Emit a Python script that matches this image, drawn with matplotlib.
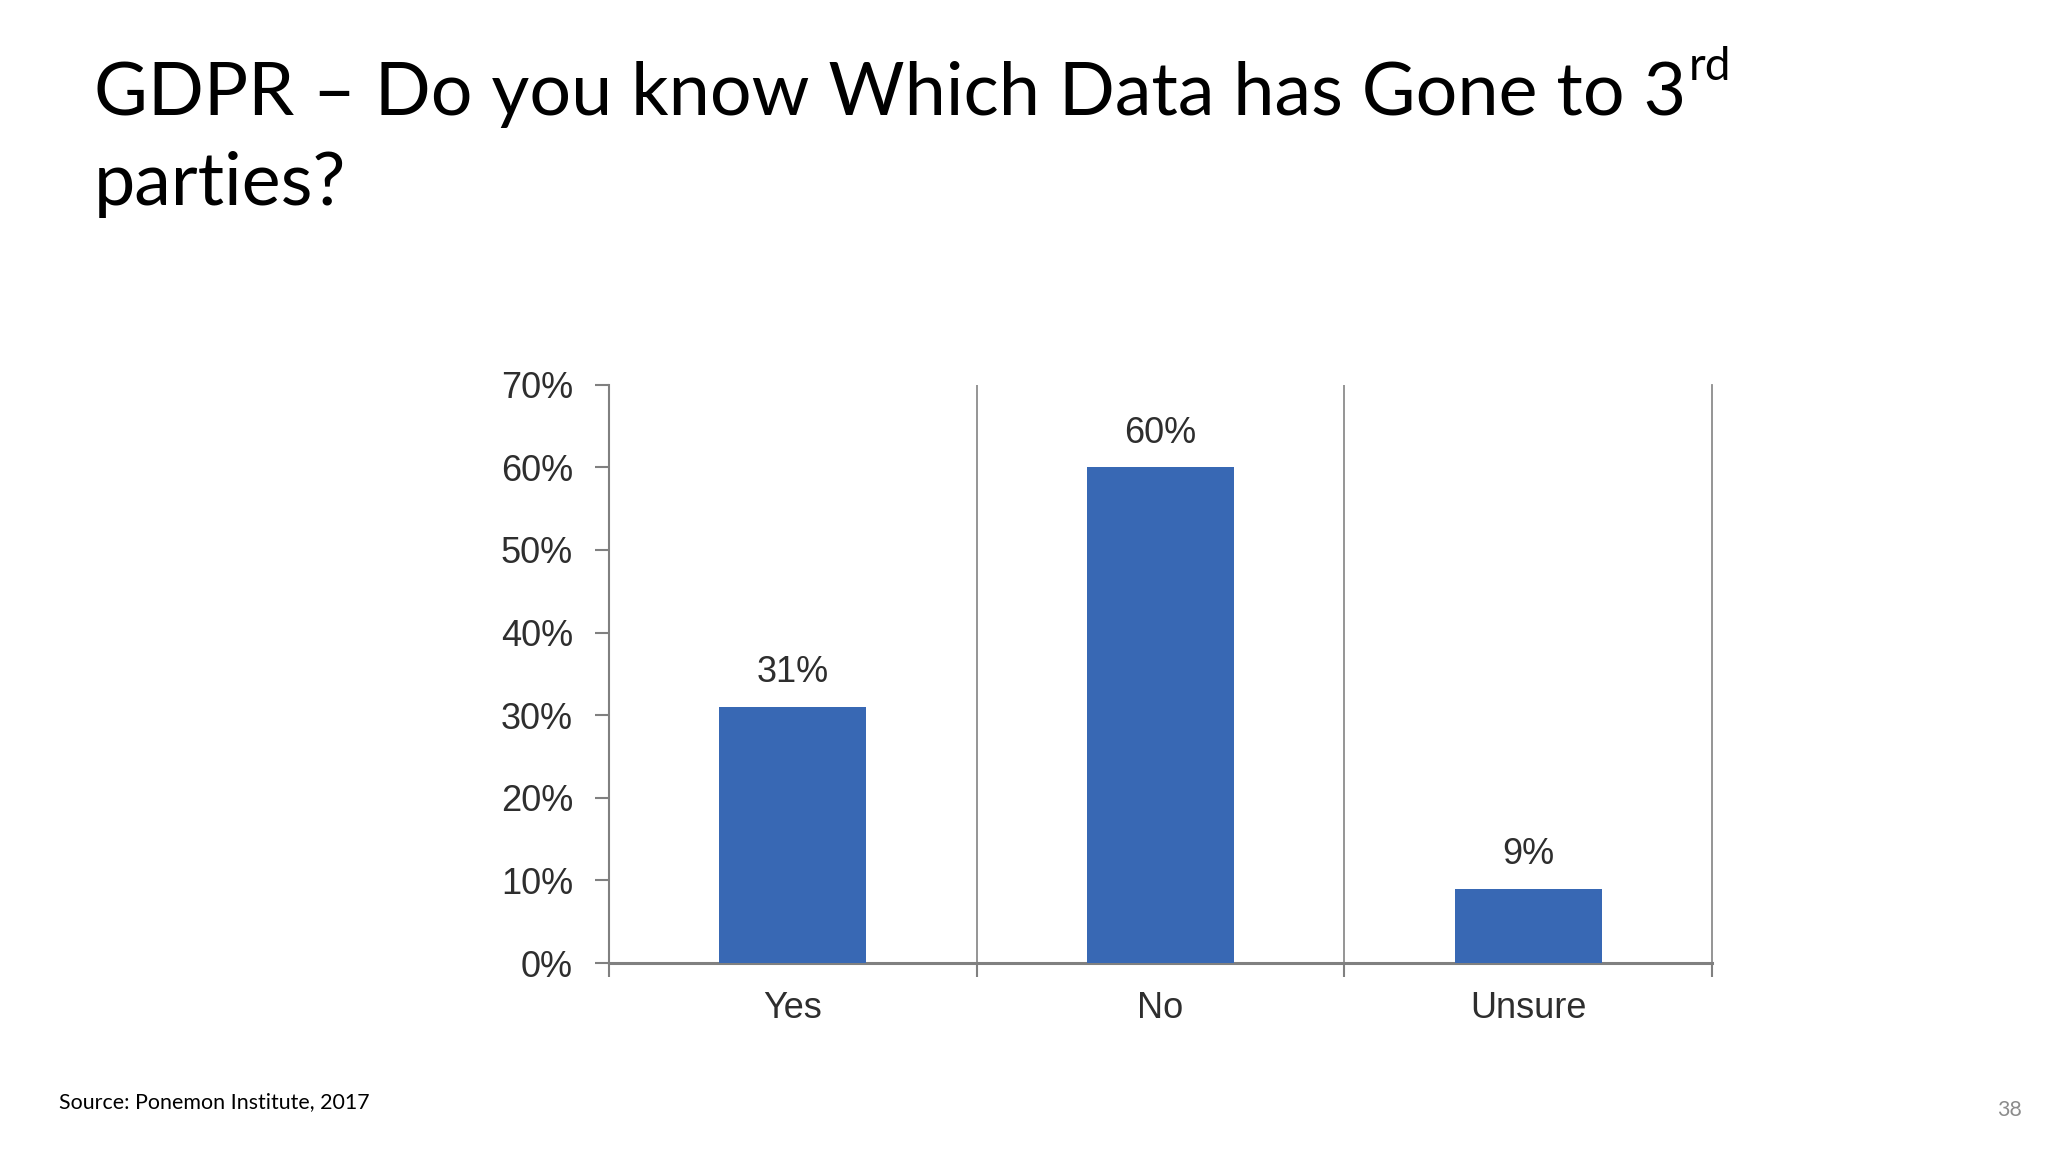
import matplotlib
matplotlib.use("Agg")
import matplotlib.pyplot as plt
from matplotlib.ticker import FixedLocator

categories = ["Yes", "No", "Unsure"]
values = [31, 60, 9]
value_labels = ["31%", "60%", "9%"]
y_ticks = [0, 10, 20, 30, 40, 50, 60, 70]
y_tick_labels = ["0%", "10%", "20%", "30%", "40%", "50%", "60%", "70%"]

title_line1 = "GDPR – Do you know Which Data has Gone to 3"
title_sup = "rd"
title_line2 = "parties?"
source_text = "Source: Ponemon Institute, 2017"
page_number = "38"

fig = plt.figure(figsize=(20.48, 11.52), dpi=100)
fig.patch.set_facecolor("white")

ax = fig.add_axes([0.2974, 0.164, 0.5386, 0.502])

bar_color = "#3868B4"
x = list(range(len(categories)))
ax.bar(x, values, width=0.40, color=bar_color, zorder=3)

for xi, v, lab in zip(x, values, value_labels):
    ax.annotate(lab, (xi, v), xytext=(0, 12), textcoords="offset points",
                ha="center", va="bottom", fontsize=26, color="#2e2e2e",
                family="Liberation Sans")

ax.set_xlim(-0.5, len(categories) - 0.5)
ax.set_ylim(0, 70)

# separators between categories
for b in [0.5, 1.5]:
    ax.axvline(b, color="#8c8c8c", lw=1.3, zorder=1)

ax.set_yticks(y_ticks)
ax.set_yticklabels(y_tick_labels, fontsize=26, color="#2e2e2e", family="Liberation Sans")
ax.tick_params(axis="y", length=10, width=1.5, color="#808080", pad=16)

ax.xaxis.set_major_locator(FixedLocator([-0.5, 0.5, 1.5, 2.5]))
ax.xaxis.set_minor_locator(FixedLocator(x))
ax.set_xticklabels([], minor=False)
ax.set_xticklabels(categories, minor=True, fontsize=26, color="#2e2e2e", family="Liberation Sans")
ax.tick_params(axis="x", which="major", length=10, width=1.5, color="#808080")
ax.tick_params(axis="x", which="minor", length=0, pad=20)

ax.spines["top"].set_visible(False)
ax.spines["left"].set_color("#808080")
ax.spines["left"].set_linewidth(1.5)
ax.spines["right"].set_color("#8c8c8c")
ax.spines["right"].set_linewidth(1.3)
ax.spines["bottom"].set_color("#808080")
ax.spines["bottom"].set_linewidth(2.2)

# Title
t1 = fig.text(94 / 2048, 1 - 115 / 1152, title_line1, fontsize=53, family="Lato",
              color="black", ha="left", va="baseline")
fig.canvas.draw()
r = fig.canvas.get_renderer()
bb = t1.get_window_extent(renderer=r)
fig.text((bb.x1 + 3) / 2048, 1 - 80 / 1152, title_sup, fontsize=33, family="Lato",
         color="black", ha="left", va="baseline")
fig.text(94 / 2048, 1 - 205 / 1152, title_line2, fontsize=53, family="Lato",
         color="black", ha="left", va="baseline")

fig.text(59 / 2048, 1 - 1108 / 1152, source_text, fontsize=15.4, family="Lato",
         color="black", ha="left", va="baseline")
fig.text(2022 / 2048, 1 - 1116 / 1152, page_number, fontsize=15.4, family="Lato",
         color="#8c8c8c", ha="right", va="baseline")

fig.savefig("out.png", dpi=100, facecolor="white")
